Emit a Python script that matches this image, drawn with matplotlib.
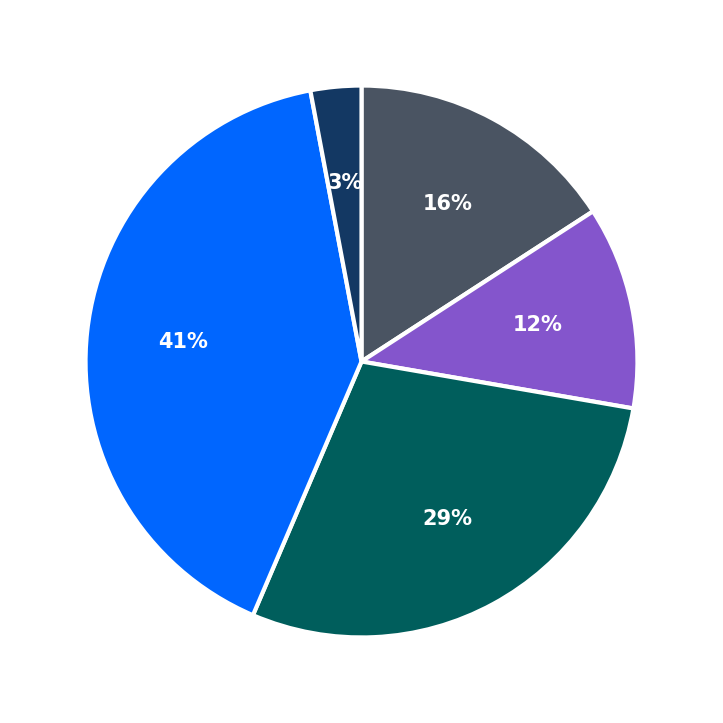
import matplotlib
matplotlib.use("Agg")
import matplotlib.pyplot as plt

shares = [16, 12, 29, 41, 3]
colors = ["#4a5462", "#8455cc", "#005e5c", "#0066ff", "#133863"]

fig, ax = plt.subplots(figsize=(7.23, 7.23), dpi=100)
fig.subplots_adjust(left=0, right=1, bottom=0, top=1)
wedges, texts, autotexts = ax.pie(
    shares, colors=colors, startangle=90, counterclock=False,
    autopct="%.0f%%", pctdistance=0.65, radius=1,
    wedgeprops=dict(edgecolor="white", linewidth=3),
    textprops=dict(color="white", fontsize=15, fontweight="bold"),
)
ax.set_xlim(-1.31, 1.31)
ax.set_ylim(-1.31, 1.31)
ax.set_aspect("equal")
fig.savefig("out.png", dpi=100, facecolor="white")
